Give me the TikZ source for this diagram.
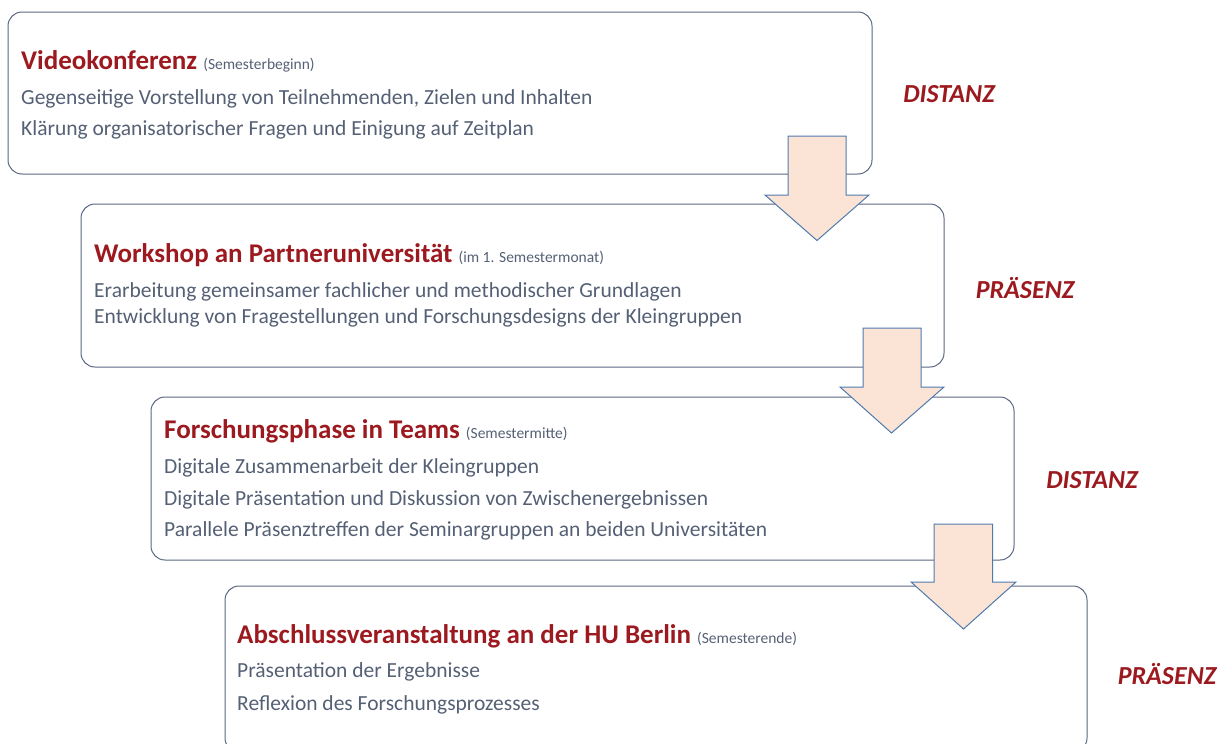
\documentclass[tikz,border=0pt]{standalone}
\usepackage{fontspec}
\setmainfont{Carlito}
\definecolor{boxline}{HTML}{5A6782}
\definecolor{titlered}{HTML}{9C1A1F}
\definecolor{bodytext}{HTML}{556075}
\definecolor{arrowfill}{HTML}{FBE4D5}
\definecolor{arrowline}{HTML}{4F7AAE}
\tikzset{
  phasebox/.style={draw=boxline, line width=1pt, rounded corners=14pt},
  flowarrow/.style={draw=arrowline, fill=arrowfill, line width=1pt, line join=miter},
  txt/.style={anchor=base west, inner sep=0pt, text=bodytext, font=\fontsize{21.5}{24}\selectfont},
  ttl/.style={anchor=base west, inner sep=0pt, text=titlered, font=\fontsize{27}{30}\selectfont\bfseries},
  lbl/.style={anchor=center, inner sep=0pt, text=titlered, font=\fontsize{26}{30}\selectfont\bfseries\itshape},
}
\newcommand{\smallnote}[1]{{\fontsize{15.5}{17}\selectfont\mdseries\color{bodytext}#1}}
\begin{document}
\begin{tikzpicture}[x=1pt,y=-1pt]
\useasboundingbox (0,0) rectangle (1227,744);
\begin{scope}
\clip (0,0) rectangle (1227,744);
% boxes
\draw[phasebox] (8,12) rectangle (872,174);
\draw[phasebox] (81,204) rectangle (944,367);
\draw[phasebox] (151,397) rectangle (1014,560);
\draw[phasebox] (225,586) rectangle (1087,752);
\end{scope}
% arrows
\draw[flowarrow] (788,136) -- (846,136) -- (846,195) -- (869,195) -- (817,240.5) -- (765,195) -- (788,195) -- cycle;
\draw[flowarrow] (863,328) -- (921,328) -- (921,387) -- (944,387) -- (891.5,433) -- (840,387) -- (863,387) -- cycle;
\draw[flowarrow] (934,524) -- (992.5,524) -- (992.5,582) -- (1016,582) -- (963.5,629) -- (911,582) -- (934,582) -- cycle;
% box 1
\node[ttl] (t1) at (21,69) {Videokonferenz \smallnote{(Semesterbeginn)}};
\node[txt] (a1) at (21,104) {Gegenseitige Vorstellung von Teilnehmenden, Zielen und Inhalten};
\node[txt] (a2) at (21,135) {Klärung organisatorischer Fragen und Einigung auf Zeitplan};
% box 2
\node[ttl] (t2) at (94,262) {Workshop an Partneruniversität \smallnote{(im 1. Semestermonat)}};
\node[txt] (b1) at (94,297) {Erarbeitung gemeinsamer fachlicher und methodischer Grundlagen};
\node[txt] (b2) at (94,323) {Entwicklung von Fragestellungen und Forschungsdesigns der Kleingruppen};
% box 3
\node[ttl] (t3) at (164,438) {Forschungsphase in Teams \smallnote{(Semestermitte)}};
\node[txt] (c1) at (164,473) {Digitale Zusammenarbeit der Kleingruppen};
\node[txt] (c2) at (164,505) {Digitale Präsentation und Diskussion von Zwischenergebnissen};
\node[txt] (c3) at (164,536) {Parallele Präsenztreffen der Seminargruppen an beiden Universitäten};
% box 4
\node[ttl] (t4) at (237,643) {Abschlussveranstaltung an der HU Berlin \smallnote{(Semesterende)}};
\node[txt] (d1) at (237,677) {Präsentation der Ergebnisse};
\node[txt] (d2) at (237,710) {Reflexion des Forschungsprozesses};
% labels
\node[lbl] (l1) at (949,94) {DISTANZ};
\node[lbl] (l2) at (1025,288) {PRÄSENZ};
\node[lbl] (l3) at (1092,480) {DISTANZ};
\node[lbl] (l4) at (1167,674) {PRÄSENZ};
\end{tikzpicture}
\end{document}
